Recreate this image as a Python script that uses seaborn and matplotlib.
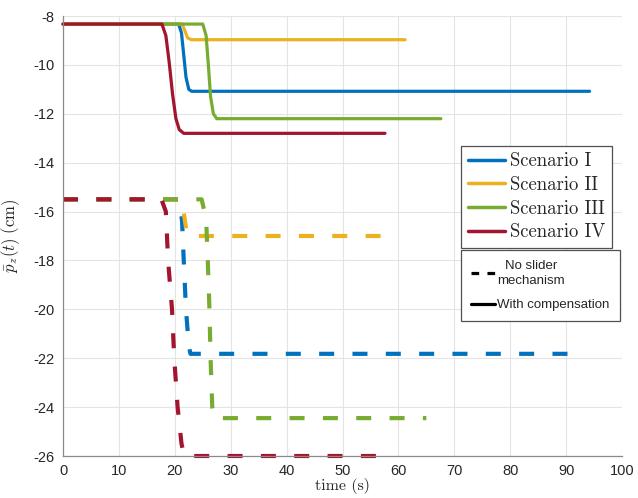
import matplotlib
matplotlib.use("Agg")
import matplotlib.pyplot as plt
import seaborn as sns
import pandas as pd
from matplotlib.lines import Line2D

sns.set_theme(style="white")
plt.rcParams["mathtext.fontset"] = "cm"
plt.rcParams["font.family"] = ["Liberation Sans", "DejaVu Sans"]
plt.rcParams["axes.unicode_minus"] = False

scenarios = ["Scenario I", "Scenario II", "Scenario III", "Scenario IV"]
colors = ["#0072BD", "#EDB120", "#77AC30", "#A2142F"]

# With compensation (solid)
comp_x = [
    [0, 20.7, 21.2, 21.6, 22.0, 22.5, 23.0, 94.2],
    [0, 21.3, 21.8, 22.3, 23.0, 61.2],
    [0, 25.0, 25.6, 26.0, 26.4, 26.9, 27.5, 67.6],
    [0, 17.7, 18.4, 19.0, 19.6, 20.2, 20.8, 21.6, 57.6],
]
comp_y = [
    [-8.33, -8.33, -8.7, -9.6, -10.5, -11.0, -11.08, -11.08],
    [-8.33, -8.33, -8.6, -8.9, -8.97, -8.97],
    [-8.33, -8.33, -8.8, -10.0, -11.3, -12.0, -12.2, -12.2],
    [-8.33, -8.33, -8.8, -9.9, -11.2, -12.2, -12.65, -12.8, -12.8],
]

# No slider mechanism (dashed)
noslide_x = [
    [0, 20.8, 21.3, 21.6, 22.0, 22.5, 22.8, 93.4],
    [0, 21.3, 21.7, 22.1, 22.5, 58.5],
    [0, 24.8, 25.6, 25.9, 26.2, 26.4, 26.7, 27.1, 65.0],
    [0, 17.6, 18.4, 18.8, 19.5, 19.9, 20.5, 21.2, 21.7, 57.6],
]
noslide_y = [
    [-15.5, -15.5, -16.4, -18.0, -20.0, -21.5, -21.82, -21.82],
    [-15.5, -15.5, -16.2, -16.8, -17.0, -17.0],
    [-15.5, -15.5, -16.3, -18.0, -20.0, -22.0, -24.0, -24.45, -24.45],
    [-15.5, -15.5, -16.0, -18.0, -20.0, -22.0, -24.0, -25.5, -26.0, -26.0],
]

W, H = 638, 498
fig = plt.figure(figsize=(W / 100, H / 100), dpi=100)
ax = fig.add_axes([63 / W, 1 - 456 / H, (622 - 63) / W, (456 - 16) / H])

for i in range(4):
    df = pd.DataFrame({"x": noslide_x[i], "y": noslide_y[i]})
    sns.lineplot(data=df, x="x", y="y", ax=ax, color=colors[i], lw=3.0,
                 sort=False, estimator=None, dashes=False, clip_on=False)
    ax.lines[-1].set_dashes((3.6, 4.4))
for i in range(4):
    df = pd.DataFrame({"x": comp_x[i], "y": comp_y[i]})
    sns.lineplot(data=df, x="x", y="y", ax=ax, color=colors[i], lw=2.3,
                 sort=False, estimator=None, clip_on=False)

ax.set_xlim(0, 100)
ax.set_ylim(-26, -8)
ax.set_xticks(range(0, 101, 10))
ax.set_yticks(range(-26, -7, 2))
ax.grid(True, color="#e4e4e4", lw=0.8)
ax.set_axisbelow(True)
for s in ["top", "right"]:
    ax.spines[s].set_visible(False)
for s in ["left", "bottom"]:
    ax.spines[s].set_color("#8a8a8a")
    ax.spines[s].set_linewidth(0.9)
ax.tick_params(direction="in", length=4, width=0.8, color="#8a8a8a",
               labelsize=10.5, labelcolor="#262626", pad=6)

ax.set_xlabel("time (s)", family="cmr10", fontsize=11.5, color="#262626", labelpad=0)
ax.set_ylabel(r"$\bar{p}_z(t)\ (\mathrm{cm})$", fontsize=12, color="#262626", labelpad=8)

h1 = [Line2D([], [], color=c, lw=2.5) for c in colors]
leg1 = ax.legend(h1, scenarios, loc="upper left", bbox_to_anchor=(461 / W, 1 - 146 / H),
                 bbox_transform=fig.transFigure, prop={"family": "cmr10", "size": 13.5},
                 fancybox=False, framealpha=1, edgecolor="#505050", handlelength=2.0,
                 handletextpad=0.25, labelspacing=0.3, borderpad=0.35, borderaxespad=0)
leg1.get_frame().set_linewidth(0.9)
ax.add_artist(leg1)

h2 = [Line2D([], [], color="black", lw=2.3, dashes=(2.4, 2.6)),
      Line2D([], [], color="black", lw=2.3)]
leg2 = ax.legend(h2, ["No slider\nmechanism", "With compensation"], loc="upper left",
                 bbox_to_anchor=(461 / W, 1 - 250 / H), bbox_transform=fig.transFigure,
                 prop={"size": 9.5}, fancybox=False, framealpha=1, edgecolor="#505050",
                 handlelength=1.8, handletextpad=0.2, labelspacing=0.9, borderpad=0.75,
                 borderaxespad=0)
leg2.get_frame().set_linewidth(0.9)
leg2.get_texts()[0].set_multialignment("center")
leg2.get_texts()[0].set_linespacing(1.35)

fig.savefig("out.png", dpi=100)
